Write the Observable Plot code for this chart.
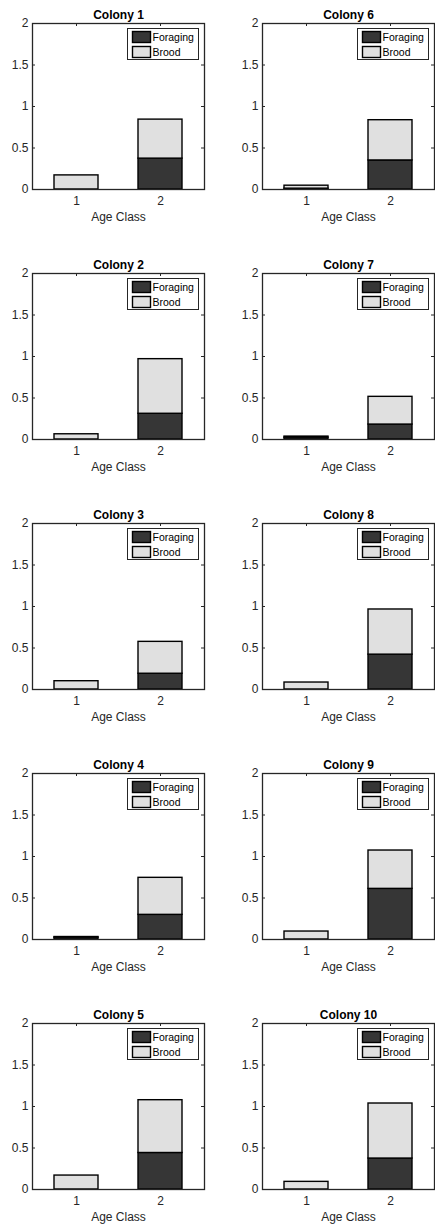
<!DOCTYPE html>
<html>
<head>
<meta charset="utf-8">
<script src="https://cdn.jsdelivr.net/npm/d3@7"></script>
<script src="https://cdn.jsdelivr.net/npm/@observablehq/plot@0.6"></script>
<style>
  html, body { margin: 0; padding: 0; background: #fff; overflow: hidden; }
  #root { position: relative; width: 435px; height: 1226px; overflow: hidden; }
  .panel { position: absolute; width: 230px; height: 250px; }
  .panel svg { font-family: "Liberation Sans", Arial, Helvetica, sans-serif; color: #262626; overflow: visible; max-width: none !important; width: 230px; height: 250px; }
</style>
</head>
<body>
<div id="root"></div>
<script>
// ---- data ----
const colonies = ["Colony 1","Colony 2","Colony 3","Colony 4","Colony 5","Colony 6","Colony 7","Colony 8","Colony 9","Colony 10"];
const ageClasses = [1, 2];
const seriesNames = ["Foraging", "Brood"];
const seriesColors = ["#363636", "#e0e0e0"];
// per colony: value for age class 1 and age class 2
const foragingAge1 = [0, 0, 0, 0.022, 0, 0.01, 0.022, 0, 0, 0];
const broodAge1    = [0.17, 0.063, 0.10, 0.008, 0.168, 0.036, 0.013, 0.084, 0.096, 0.092];
const foragingAge2 = [0.372, 0.31, 0.19, 0.297, 0.44, 0.35, 0.18, 0.42, 0.61, 0.373];
const broodAge2    = [0.47, 0.658, 0.384, 0.446, 0.636, 0.485, 0.334, 0.544, 0.462, 0.663];
const yTicks = [0, 0.5, 1, 1.5, 2];
const xLabel = "Age Class";

// ---- layout ----
const W = 230, H = 250, mL = 32, mT = 23, fw = 172, fh = 166;
const root = document.getElementById("root");
const axisColor = "#262626";

colonies.forEach((name, i) => {
  const col = i < 5 ? 0 : 1;
  const row = i % 5;
  const rows = [
    {age: 1, type: seriesNames[0], value: foragingAge1[i]},
    {age: 1, type: seriesNames[1], value: broodAge1[i]},
    {age: 2, type: seriesNames[0], value: foragingAge2[i]},
    {age: 2, type: seriesNames[1], value: broodAge2[i]}
  ];
  const legendMarks = [
    Plot.frame({insetLeft: 95, insetRight: 6, insetTop: 5, insetBottom: 130, fill: "white", stroke: axisColor, strokeWidth: 1})
  ];
  seriesNames.forEach((s, k) => {
    legendMarks.push(Plot.frame({insetLeft: 100, insetRight: 54, insetTop: 8 + k * 15, insetBottom: fh - 19 - k * 15,
      fill: seriesColors[k], stroke: "black", strokeWidth: 1.4}));
    legendMarks.push(Plot.text([s], {text: d => d, frameAnchor: "top-left", dx: 120, dy: 14.3 + k * 15,
      textAnchor: "start", lineAnchor: "middle", fontSize: 10.5, fill: "black"}));
  });
  const svg = Plot.plot({
    width: W, height: H,
    marginLeft: mL, marginRight: W - mL - fw, marginTop: mT, marginBottom: H - mT - fh,
    x: {type: "band", domain: ageClasses, paddingInner: 0.482, paddingOuter: 0.253, axis: null},
    y: {domain: [0, 2], axis: null},
    color: {domain: seriesNames, range: seriesColors},
    marks: [
      Plot.axisY({ticks: yTicks, tickFormat: d => String(d), tickSize: 0, tickPadding: 4, label: null, fontSize: 12, fill: axisColor}),
      Plot.axisX({ticks: ageClasses, tickFormat: d => String(d), tickSize: 0, tickPadding: 7, label: null, fontSize: 12, fill: axisColor}),
      Plot.tickY(yTicks, {y: d => d, insetRight: fw - 3, stroke: axisColor}),
      Plot.tickY(yTicks, {y: d => d, insetLeft: fw - 3, stroke: axisColor}),
      Plot.tickX(ageClasses, {x: d => d, insetBottom: fh - 3, stroke: axisColor}),
      Plot.barY(rows, {x: "age", y: "value", fill: "type", stroke: "black", strokeWidth: 1.4}),
      Plot.frame({stroke: axisColor, strokeWidth: 1.3}),
      ...legendMarks,
      Plot.text([name], {text: d => d, frameAnchor: "top", dy: -8.5, lineAnchor: "middle", fontWeight: "bold", fontSize: 12, fill: "black"}),
      Plot.text([xLabel], {text: d => d, frameAnchor: "bottom", dy: 28, lineAnchor: "middle", fontSize: 12, fill: axisColor})
    ]
  });
  const div = document.createElement("div");
  div.className = "panel";
  div.style.left = (col * W) + "px";
  div.style.top = (row * H) + "px";
  div.appendChild(svg);
  root.appendChild(div);
});
</script>
</body>
</html>
